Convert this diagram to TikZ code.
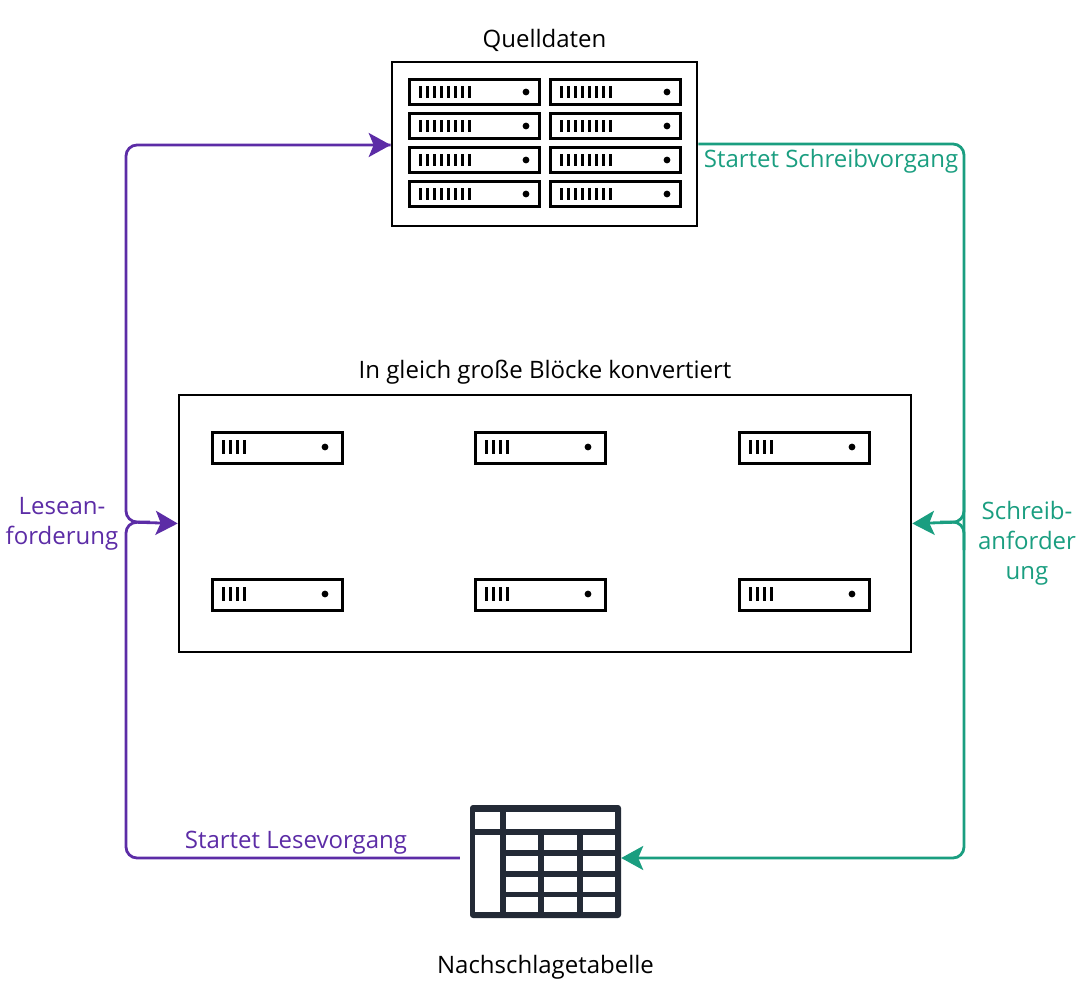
\documentclass[tikz,border=0pt]{standalone}
\usepackage{fontspec}
\setmainfont{Open Sans}
\usetikzlibrary{arrows.meta}
\definecolor{pur}{HTML}{5C2CA6}
\definecolor{teal}{HTML}{1A9E80}
\definecolor{ink}{HTML}{232A36}
\begin{document}
\begin{tikzpicture}[x=1pt,y=-1pt,
  lbl/.style={font=\fontsize{24}{30}\selectfont},
  line/.style={line width=2.8pt,rounded corners=11pt},
  con/.style={line,-{Stealth[length=22pt,width=24pt,inset=5pt]}},
  unit/.style={draw=black,line width=3pt,fill=white},
  box/.style={draw=black,line width=2.6pt,fill=white}]
\useasboundingbox (0,0) rectangle (1085,992);
% source server rack
\node[box,minimum width=305pt,minimum height=164pt,inner sep=0pt] (src) at (544.5,144) {};
\foreach \r/\y in {0/92,1/126,2/160,3/194}{
 \foreach \c/\x in {0/409,1/550}{
  \draw[unit] (\x,\y-12) rectangle ++(130,25);
  \foreach \k in {0,...,7}{\fill (\x+10+\k*7,\y-6) rectangle ++(3,12);}
  \fill (\x+117,\y) circle (3.4);
 }}
\node[lbl,above=6pt] at (src.north) {Quelldaten};
% blocks
\node[box,minimum width=732pt,minimum height=257pt,inner sep=0pt] (blk) at (545,523.5) {};
\foreach \x in {212,475,739}{
 \foreach \y in {447,594}{
  \draw[unit] (\x,\y-15) rectangle ++(130,31);
  \foreach \k in {0,...,3}{\fill (\x+10+\k*7,\y-7) rectangle ++(3,14);}
  \fill (\x+113,\y) circle (3.4);
 }}
\node[lbl,above=6pt] at (blk.north) {In gleich große Blöcke konvertiert};
% lookup table
\node[inner sep=0pt,minimum width=151pt,minimum height=113pt] (tab) at (545.5,861.5) {};
\fill[ink,rounded corners=3pt] (470,805) rectangle (621,918);
\begin{scope}[fill=white]
\fill (475,812) rectangle (500,829);
\fill (506,812) rectangle (615,829);
\fill (475,835) rectangle (500,912);
\foreach \ya/\yb in {835/850,856/871,877/892,897/912}{
 \foreach \xa/\xb in {506/538,544/577,583/615}{\fill (\xa,\ya) rectangle (\xb,\yb);}}
\end{scope}
\node[lbl,below=34pt] at (tab.south) {Nachschlagetabelle};
% purple connectors
\coordinate (pj) at (126,522);
\coordinate (ps) at ([xshift=-10pt]tab.west |- 0,858);
\draw[con,pur] (ps) -- (126,858) -- (pj) -- (blk.west);
\draw[line,pur] (150,522) -- (pj) -- (126,145) -- (src.west |- 0,145);
\draw[con,pur] (300,145) -- (src.west |- 0,145);
\node[lbl,pur,align=center] at (62,524) {Lesean-\\forderung};
\node[lbl,pur] at (296,843) {Startet Lesevorgang};
% teal connectors
\coordinate (tj) at (964,522);
\draw[con,teal] (src.east |- 0,144) -- (964,144) -- (964,858) -- (tab.east |- 0,858);
\draw[con,teal] (964,490) -- (tj) -- (blk.east);
\draw[line,teal] (940,522) -- (tj) -- (964,550);
\node[lbl,teal] at (831,161) {Startet Schreibvorgang};
\node[lbl,teal,align=center] at (1027,543) {Schreib-\\anforder\\ung};
\end{tikzpicture}
\end{document}
